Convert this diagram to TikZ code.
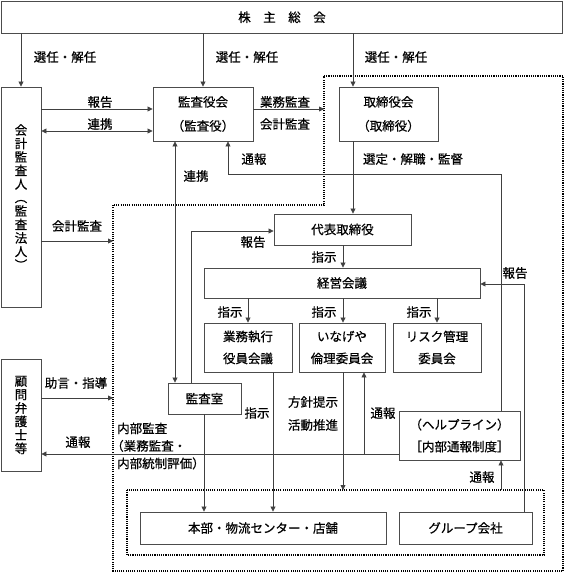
\documentclass[tikz,border=0pt]{standalone}
\usepackage{fontspec}
\setmainfont{Noto Sans CJK JP}[FakeBold=0.6]
\usetikzlibrary{arrows.meta}
\begin{document}
\begin{tikzpicture}[x=1pt,y=-1pt,
  font=\fontsize{12.5}{22}\selectfont,
  box/.style={draw=black!70, line width=0.9pt, inner sep=0pt, align=center},
  tip/.tip={Triangle[length=5pt,width=5pt]},
  arr/.style={draw=black!75, line width=0.8pt, -tip},
  dbl/.style={draw=black!75, line width=0.8pt, tip-tip},
  dots/.style={draw=black, line width=1.1pt, dash pattern=on 1.1pt off 1.1pt},
  lbl/.style={inner sep=0pt},
  vert/.style={box, font=\fontsize{12.5}{13.5}\selectfont}
]
\useasboundingbox (0,0) rectangle (564,573);

% dotted regions
\coordinate (d1) at (324,76);
\coordinate (d2) at (563,76);
\coordinate (d3) at (563,571);
\coordinate (d4) at (113,571);
\coordinate (d5) at (113,205);
\coordinate (d6) at (324,205);
\draw[dots] (d1) -- (d2) -- (d3) -- (d4) -- (d5) -- (d6) -- cycle;
\coordinate (i1) at (127,490);
\coordinate (i2) at (544,555);
\draw[dots] (i1) rectangle (i2);

% boxes
\node[box, minimum width=561pt, minimum height=31.5pt] (kabu) at (282,17.25) {株　主　総　会};
\node[vert, minimum width=40pt, minimum height=220pt] (kaikei) at (21,197)
  {会\\計\\監\\査\\人\\︵\\監\\査\\法\\人\\︶};
\node[box, minimum width=100pt, minimum height=54pt] (kansayaku) at (203,114) {監査役会\\[2pt]（監査役）};
\node[box, minimum width=99pt, minimum height=54pt] (torishimari) at (388.5,114) {取締役会\\[2pt]（取締役）};
\node[box, minimum width=137pt, minimum height=31pt] (daihyo) at (342.5,229.5) {代表取締役};
\node[box, minimum width=276pt, minimum height=30pt] (keiei) at (342,283) {経営会議};
\node[box, minimum width=88pt, minimum height=49pt] (gyomu) at (248,347.5) {業務執行\\役員会議};
\node[box, minimum width=86pt, minimum height=49pt] (rinri) at (342,347.5) {いなげや\\倫理委員会};
\node[box, minimum width=88pt, minimum height=49pt] (risk) at (437,347.5) {リスク管理\\委員会};
\node[box, minimum width=73pt, minimum height=31pt] (kansashitsu) at (204.5,398.5) {監査室};
\node[box, minimum width=121pt, minimum height=49pt] (helpline) at (459.5,435.5) {（ヘルプライン）\\［内部通報制度］};
\node[vert, minimum width=40pt, minimum height=112pt] (komon) at (21,415) {顧\\問\\弁\\護\\士\\等};
\node[box, minimum width=246pt, minimum height=32pt] (honbu) at (263,528) {本部・物流センター・店舗};
\node[box, minimum width=133pt, minimum height=32pt] (group) at (465.5,528) {グループ会社};

% helper coordinates
\coordinate (c175) at (175,0);
\coordinate (c191) at (191,0);
\coordinate (c204) at (204,0);
\coordinate (c228) at (228,0);
\coordinate (c273) at (273,0);
\coordinate (c343) at (343,0);
\coordinate (c353) at (353,0);
\coordinate (c364) at (364,0);
\coordinate (c501) at (501,0);
\coordinate (c524) at (524,0);
\coordinate (y109) at (0,109);
\coordinate (y131) at (0,131);
\coordinate (y174) at (0,174);
\coordinate (y231) at (0,231);
\coordinate (y241) at (0,241);
\coordinate (y284) at (0,284);
\coordinate (y398) at (0,398);
\coordinate (y454) at (0,454);

% connectors
\draw[arr] (kabu.south -| kaikei) -- (kaikei.north);
\draw[arr] (kabu.south -| kansayaku) -- (kansayaku.north);
\draw[arr] (kabu.south -| c353) -- (torishimari.north -| c353);
\draw[arr] (kaikei.east |- y109) -- (kansayaku.west |- y109);
\draw[dbl] (kaikei.east |- y131) -- (kansayaku.west |- y131);
\draw[arr] (kansayaku.east |- y109) -- (d1 |- y109);
\draw[arr] (torishimari.south -| c353) -- (daihyo.north -| c353);
\draw[arr] (helpline.north -| c501) -- (c501 |- y174) -- (c228 |- y174) -- (kansayaku.south -| c228);
\draw[dbl] (kansayaku.south -| c175) -- (kansashitsu.north -| c175);
\draw[arr] (kaikei.east |- y241) -- (d5 |- y241);
\draw[arr] (kansashitsu.north -| c191) -- (c191 |- y231) -- (daihyo.west |- y231);
\draw[arr] (daihyo.south -| c343) -- (keiei.north -| c343);
\draw[arr] (keiei.south -| gyomu) -- (gyomu.north);
\draw[arr] (keiei.south -| c343) -- (rinri.north -| c343);
\draw[arr] (keiei.south -| risk) -- (risk.north);
\draw[arr] (group.north -| c524) -- (c524 |- y284) -- (keiei.east |- y284);
\draw[arr] (gyomu.south -| c273) -- (honbu.north -| c273);
\draw[arr] (rinri.south -| c343) -- (i1 -| c343);
\draw[arr] (helpline.west |- y454) -- (komon.east |- y454);
\draw[arr] (c364 |- y454) -- (rinri.south -| c364);
\draw[arr] (i1 -| c501) -- (helpline.south -| c501);
\draw[arr] (kansashitsu.south -| c204) -- (honbu.north -| c204);
\draw[arr] (komon.east |- y398) -- (d5 |- y398);

% labels
\node[lbl] (l1) at (65,57) {選任・解任};
\node[lbl] (l2) at (247,57) {選任・解任};
\node[lbl] (l3) at (396,57) {選任・解任};
\node[lbl] (l4) at (100,102) {報告};
\node[lbl] (l5) at (100,124) {連携};
\node[lbl] (l6) at (285,102) {業務監査};
\node[lbl] (l7) at (285,124) {会計監査};
\node[lbl] (l8) at (254,159) {通報};
\node[lbl] (l9) at (413,159) {選定・解職・監督};
\node[lbl] (l10) at (196,176) {連携};
\node[lbl] (l11) at (77,226) {会計監査};
\node[lbl] (l12) at (253,242) {報告};
\node[lbl] (l13) at (324,257) {指示};
\node[lbl] (l14) at (515,273) {報告};
\node[lbl] (l15) at (230,312) {指示};
\node[lbl] (l16) at (324,312) {指示};
\node[lbl] (l17) at (419,312) {指示};
\node[lbl] (l18) at (76,383) {助言・指導};
\node[lbl] (l19) at (257,413) {指示};
\node[lbl] (l20) at (313,402) {方針提示};
\node[lbl] (l21) at (313,425) {活動推進};
\node[lbl] (l22) at (383,413) {通報};
\node[lbl] (l23) at (78,442) {通報};
\node[lbl, anchor=west, align=left, font=\fontsize{12.5}{17.5}\selectfont] (l24) at (117,446) {内部監査\\\hspace*{-6pt}（業務監査・\\内部統制評価）};
\node[lbl] (l25) at (482,477) {通報};
\end{tikzpicture}
\end{document}
